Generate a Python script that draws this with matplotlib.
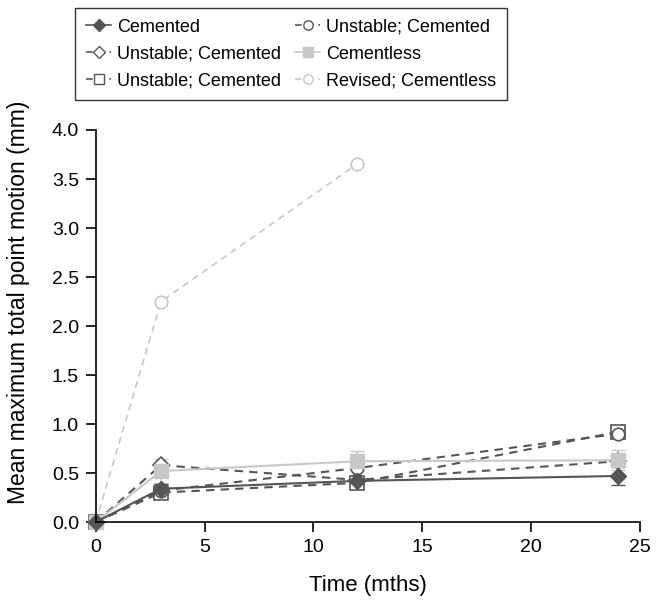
import matplotlib.pyplot as plt
from matplotlib.lines import Line2D

plt.rcParams['font.family'] = ['Liberation Sans', 'DejaVu Sans']

months = [0, 3, 12, 24]
months_revised = [0, 3, 12]

cemented = [0, 0.34, 0.42, 0.47]
cemented_err = [0, 0.05, 0.03, 0.09]
unstable_diamond = [0, 0.58, 0.43, 0.62]
unstable_square = [0, 0.30, 0.40, 0.92]
unstable_circle = [0, 0.32, 0.55, 0.90]
cementless = [0, 0.52, 0.62, 0.63]
cementless_err = [0, 0.12, 0.10, 0.10]
revised = [0, 2.25, 3.65]

labels = ["Cemented", "Unstable; Cemented", "Unstable; Cemented",
          "Unstable; Cemented", "Cementless", "Revised; Cementless"]

dark = "#555555"
light = "#c8c8c8"
dash = (0, (4, 3))

# style per series: (colour, linestyle, marker, size, facecolour)
styles = [
    (dark, "-", "D", 8, dark),
    (dark, dash, "D", 8, "white"),
    (dark, dash, "s", 10, "white"),
    (dark, dash, "o", 9, "white"),
    (light, "-", "s", 10, light),
    (light, dash, "o", 9, "white"),
]

fig = plt.figure(figsize=(6.65, 6.01), dpi=100)
ax = fig.add_axes([0.144, 0.1314, 0.818, 0.6523])

# light series first so dark ones sit on top
c, ls, m, ms, fc = styles[5]
ax.plot(months_revised, revised, color=c, ls=ls, lw=1.2, marker=m, ms=ms,
        mfc=fc, mec=c, mew=1.2, clip_on=False)
c, ls, m, ms, fc = styles[4]
ax.errorbar(months, cementless, yerr=cementless_err, color=c, ls=ls, lw=1.5,
            marker=m, ms=ms, mfc=fc, mec=c, capsize=5, elinewidth=1.2)
c, ls, m, ms, fc = styles[0]
ax.errorbar(months, cemented, yerr=cemented_err, color=c, ls=ls, lw=1.5,
            marker=m, ms=ms, mfc=fc, mec=c, capsize=5, elinewidth=1.2)
for vals, st in zip([unstable_diamond, unstable_square, unstable_circle], styles[1:4]):
    c, ls, m, ms, fc = st
    ax.plot(months, vals, color=c, ls=ls, lw=1.5, marker=m, ms=ms,
            mfc=fc, mec=c, mew=1.2)

ax.set_xlim(0, 25)
ax.set_ylim(0, 4)
ax.set_xticks([0, 5, 10, 15, 20, 25])
ax.set_yticks([0, 0.5, 1.0, 1.5, 2.0, 2.5, 3.0, 3.5, 4.0])
ax.set_yticklabels(["0.0", "0.5", "1.0", "1.5", "2.0", "2.5", "3.0", "3.5", "4.0"])
ax.spines["top"].set_visible(False)
ax.spines["right"].set_visible(False)
for s in ("left", "bottom"):
    ax.spines[s].set_linewidth(1.2)
for ln in ax.lines:
    ln.set_clip_on(False)
ax.tick_params(direction="out", length=7, width=1.2, labelsize=14, pad=5)
ax.set_xlabel("Time (mths)", fontsize=16)
ax.xaxis.set_label_coords(0.5, -0.135)
ax.set_ylabel("Mean maximum total point motion (mm)", fontsize=16.5)
ax.yaxis.set_label_coords(-0.12, 0.56)

handles = [Line2D([], [], color=c, ls=ls, lw=1.2, marker=m, ms=ms * 0.75,
                  mfc=fc, mec=c, mew=1.0) for c, ls, m, ms, fc in styles]
leg = fig.legend(handles, labels, ncol=2, loc="upper left",
                 bbox_to_anchor=(0.113, 0.987), fontsize=13,
                 frameon=True, fancybox=False, edgecolor="black",
                 handlelength=1.4, handletextpad=0.3, columnspacing=0.8,
                 labelspacing=0.55, borderpad=0.6, borderaxespad=0)
leg.get_frame().set_linewidth(1.0)

fig.savefig("out.png", dpi=100)
